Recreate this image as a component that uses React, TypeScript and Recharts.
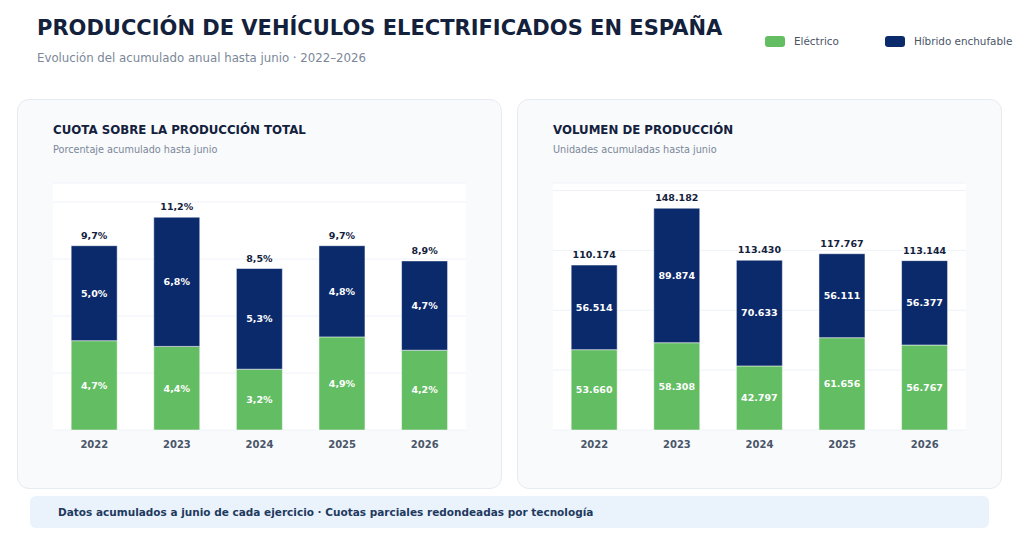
import { BarChart, Bar, XAxis, YAxis, CartesianGrid, LabelList } from "recharts";

const years = ["2022", "2023", "2024", "2025", "2026"];
const shareElectric = [4.7, 4.4, 3.2, 4.9, 4.2];
const sharePhev = [5.0, 6.8, 5.3, 4.8, 4.7];
const unitsElectric = [53660, 58308, 42797, 61656, 56767];
const unitsPhev = [56514, 89874, 70633, 56111, 56377];
const shareTicks = [0, 3, 6, 9, 12];
const unitTicks = [0, 40000, 80000, 120000, 160000];

const GREEN = "#63bd63";
const NAVY = "#0b2a6b";
const FONT = "'DejaVu Sans', sans-serif";

const shareData = years.map((year, i) => ({
  year,
  electric: shareElectric[i],
  phev: sharePhev[i],
  total: Math.round((shareElectric[i] + sharePhev[i]) * 10) / 10,
}));

const unitData = years.map((year, i) => ({
  year,
  electric: unitsElectric[i],
  phev: unitsPhev[i],
  total: unitsElectric[i] + unitsPhev[i],
}));

const fmtPct = (v: number) => v.toFixed(1).replace(".", ",") + "%";
const fmtUnits = (v: number) =>
  String(Math.round(v)).replace(/\B(?=(\d{3})+(?!\d))/g, ".");

type PanelProps = {
  left: number;
  title: string;
  subtitle: string;
  data: Record<string, any>[];
  domainMax: number;
  ticks: number[];
  fmt: (v: number) => string;
};

const Panel = ({ left, title, subtitle, data, domainMax, ticks, fmt }: PanelProps) => (
  <div
    style={{
      position: "absolute",
      left,
      top: 99,
      width: 485,
      height: 390,
      boxSizing: "border-box",
      background: "#f8fafc",
      border: "1px solid #e6ebf1",
      borderRadius: 12,
    }}
  >
    <div
      style={{
        position: "absolute",
        left: 35,
        top: 23,
        fontSize: 11.8,
        fontWeight: 700,
        color: "#13213c",
        whiteSpace: "nowrap",
      }}
    >
      {title}
    </div>
    <div
      style={{
        position: "absolute",
        left: 35,
        top: 44,
        fontSize: 9.7,
        color: "#7b8798",
        whiteSpace: "nowrap",
      }}
    >
      {subtitle}
    </div>
    <div style={{ position: "absolute", left: -1, top: 70 }}>
      <BarChart
        width={485}
        height={290}
        data={data}
        margin={{ top: 13, right: 36, bottom: 0, left: 36 }}
        barCategoryGap="22%"
      >
        <CartesianGrid vertical={false} stroke="#eef2f8" fill="#ffffff" />
        <XAxis
          dataKey="year"
          axisLine={false}
          tickLine={false}
          tickMargin={5}
          height={30}
          tick={{ fill: "#4a5568", fontSize: 10, fontWeight: 700, fontFamily: FONT }}
        />
        <YAxis hide domain={[0, domainMax]} ticks={ticks} />
        <Bar
          dataKey="electric"
          stackId="a"
          fill={GREEN}
          stroke="#ffffff"
          strokeOpacity={0.5}
          strokeWidth={1}
          isAnimationActive={false}
        >
          <LabelList
            dataKey="electric"
            position="center"
            formatter={(v: any) => fmt(Number(v))}
            style={{ fill: "#ffffff", fontSize: 9.5, fontWeight: 700, fontFamily: FONT }}
          />
        </Bar>
        <Bar
          dataKey="phev"
          stackId="a"
          fill={NAVY}
          stroke="#ffffff"
          strokeOpacity={0.5}
          strokeWidth={1}
          isAnimationActive={false}
        >
          <LabelList
            dataKey="phev"
            position="center"
            formatter={(v: any) => fmt(Number(v))}
            style={{ fill: "#ffffff", fontSize: 9.5, fontWeight: 700, fontFamily: FONT }}
          />
          <LabelList
            dataKey="total"
            position="top"
            offset={7}
            formatter={(v: any) => fmt(Number(v))}
            style={{ fill: "#13213c", fontSize: 9.5, fontWeight: 700, fontFamily: FONT }}
          />
        </Bar>
      </BarChart>
    </div>
  </div>
);

const LegendItem = ({ color, label }: { color: string; label: string }) => (
  <div style={{ display: "flex", alignItems: "center" }}>
    <div
      style={{ width: 20, height: 11, borderRadius: 3, background: color, marginRight: 9 }}
    />
    <span style={{ fontSize: 10.4, color: "#4a5568" }}>{label}</span>
  </div>
);

export default function App() {
  return (
    <div
      style={{
        position: "absolute",
        left: 0,
        top: 0,
        width: 1024,
        height: 544,
        background: "#ffffff",
        fontFamily: FONT,
        overflow: "hidden",
      }}
    >
      <div
        style={{
          position: "absolute",
          left: 37,
          top: 16,
          fontSize: 21,
          fontWeight: 700,
          color: "#13213c",
          whiteSpace: "nowrap",
        }}
      >
        PRODUCCIÓN DE VEHÍCULOS ELECTRIFICADOS EN ESPAÑA
      </div>
      <div
        style={{
          position: "absolute",
          left: 37,
          top: 51,
          fontSize: 11.75,
          color: "#7b8798",
          whiteSpace: "nowrap",
        }}
      >
        Evolución del acumulado anual hasta junio · 2022–2026
      </div>
      <div style={{ position: "absolute", left: 765, top: 35, display: "flex", gap: 46 }}>
        <LegendItem color={GREEN} label="Eléctrico" />
        <LegendItem color={NAVY} label="Híbrido enchufable" />
      </div>

      <Panel
        left={17}
        title="CUOTA SOBRE LA PRODUCCIÓN TOTAL"
        subtitle="Porcentaje acumulado hasta junio"
        data={shareData}
        domainMax={13}
        ticks={shareTicks}
        fmt={fmtPct}
      />
      <Panel
        left={517}
        title="VOLUMEN DE PRODUCCIÓN"
        subtitle="Unidades acumuladas hasta junio"
        data={unitData}
        domainMax={165000}
        ticks={unitTicks}
        fmt={fmtUnits}
      />

      <div
        style={{
          position: "absolute",
          left: 30,
          top: 496,
          width: 959,
          height: 32,
          background: "#eaf2fc",
          borderRadius: 6,
          display: "flex",
          alignItems: "center",
          paddingLeft: 28,
          boxSizing: "border-box",
          fontSize: 10.5,
          fontWeight: 700,
          color: "#1e3a5f",
          whiteSpace: "nowrap",
        }}
      >
        Datos acumulados a junio de cada ejercicio · Cuotas parciales redondeadas por tecnología
      </div>
    </div>
  );
}
